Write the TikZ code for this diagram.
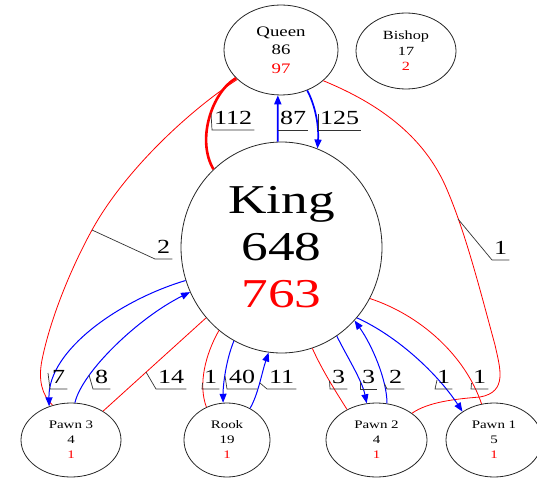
\documentclass[tikz,border=0pt]{standalone}
\usepackage{fontspec}
\setmainfont{Liberation Serif}[FakeStretch=1.3]
\usetikzlibrary{shapes.geometric,arrows.meta}
\begin{document}
\begin{tikzpicture}[x=1pt,y=-1pt,
  piece/.style={ellipse, draw=black!85, line width=0.8pt, inner sep=0pt, align=center},
  kingfont/.style={font=\fontsize{41}{47}\selectfont},
  queenfont/.style={font=\fontsize{14.5}{18.5}\selectfont},
  bishopfont/.style={font=\fontsize{12.5}{15.5}\selectfont},
  pawnfont/.style={font=\fontsize{11.5}{15}\selectfont},
  thinred/.style={draw=red, line width=0.8pt},
  thickred/.style={draw=red, line width=2.6pt},
  blueedge/.style={draw=blue, line width=1pt, -{Triangle[length=9pt,width=7pt]}},
  bluethick/.style={blueedge, line width=1.7pt},
  lbl/.style={font=\fontsize{20}{24}\selectfont, inner xsep=2pt, inner ysep=5.5pt, text depth=0pt, anchor=south west},
  lblline/.style={draw=black!80, line width=0.7pt}]
\useasboundingbox (0,0) rectangle (537,478);
\clip (0,0) rectangle (537,478);

% nodes
\node[piece, queenfont, minimum width=114pt, minimum height=90pt] (Q) at (281,50) {Queen\\86\\\textcolor{red}{97}};
\node[piece, bishopfont, minimum width=100pt, minimum height=76pt] (B) at (406,51) {Bishop\\17\\\textcolor{red}{2}};
\node[piece, kingfont, minimum width=201pt, minimum height=211pt] (K) at (281.5,247.5) {King\\648\\\textcolor{red}{763}};
\node[piece, pawnfont, minimum width=100pt, minimum height=74pt] (P3) at (71,440) {Pawn 3\\4\\\textcolor{red}{1}};
\node[piece, pawnfont, minimum width=86pt, minimum height=74pt] (R) at (227,440) {Rook\\19\\\textcolor{red}{1}};
\node[piece, pawnfont, minimum width=101pt, minimum height=74pt] (P2) at (376.5,440) {Pawn 2\\4\\\textcolor{red}{1}};
\node[piece, pawnfont, minimum width=96pt, minimum height=74pt] (P1) at (494,440) {Pawn 1\\5\\\textcolor{red}{1}};

% edges Queen - King
\draw[thickred] (Q.212) .. controls (212,92) and (196,140) .. (K.131);
\draw[bluethick] (K.92) -- (Q.266);
\draw[bluethick] (Q.303) .. controls (315,105) and (319,125) .. (K.70);
% long red edges from Queen
\draw[thinred] (Q.214) .. controls (190,110) and (125,170) .. (92,230) .. controls (70,270) and (50,320) .. (42,360) .. controls (38,380) and (42,395) .. (P3.118);
\draw[thinred] (Q.324) .. controls (370,100) and (420,130) .. (445,185) .. controls (465,230) and (480,290) .. (495,345) .. controls (500,368) and (508,392) .. (480,397) .. controls (455,399) and (428,402) .. (P2.37);
% King - Pawn 1
\draw[thinred] (K.330) .. controls (420,315) and (465,355) .. (P1.109);
\draw[blueedge] (K.317) .. controls (397,336) and (437,373) .. (P1.138);
% King - Pawn 2
\draw[blueedge] (P2.74) .. controls (387,380) and (372,345) .. (K.315);
\draw[blueedge] (K.302) .. controls (346,355) and (362,380) .. (P2.105);
\draw[thinred] (K.287) .. controls (322,370) and (336,392) .. (P2.134);
% King - Rook
\draw[blueedge] (R.54) .. controls (258,395) and (262,372) .. (K.263);
\draw[blueedge] (K.243) .. controls (226,360) and (223,385) .. (R.96);
\draw[thinred] (K.233) .. controls (205,355) and (198,385) .. (R.122);
% King - Pawn 3
\draw[thinred] (K.223) -- (P3.42);
\draw[blueedge] (P3.84) .. controls (82,372) and (138,318) .. (K.206);
\draw[blueedge] (K.199) .. controls (120,300) and (48,350) .. (P3.123);

% edge label anchors on edges
\coordinate (e112) at (211,113);
\coordinate (e125) at (318,114);
\coordinate (e2q) at (92,230);
\coordinate (e1q) at (458,219);
\coordinate (e7) at (48,373);
\coordinate (e8) at (89,375);
\coordinate (e14) at (146,372);
\coordinate (e1r) at (202.5,383);
\coordinate (e40) at (225,376);
\coordinate (e11) at (260,383);
\coordinate (e3a) at (329.5,381);
\coordinate (e3b) at (360,382);
\coordinate (e2p) at (384.5,384);
\coordinate (e1a) at (437,380);
\coordinate (e1b) at (471.5,383);

% labels
\node[lbl] (l112) at (212,130) {112};
\node[lbl] (l87) at (278,130) {87};
\node[lbl] (l125) at (318,130) {125};
\node[lbl] (l2q) at (155,259) {2};
\node[lbl] (l1q) at (492,260) {1};
\node[lbl] (l7) at (50,389) {7};
\node[lbl] (l8) at (93,389) {8};
\node[lbl] (l14) at (156,389) {14};
\node[lbl] (l1r) at (202,389) {1};
\node[lbl] (l40) at (227,389) {40};
\node[lbl] (l11) at (267,389) {11};
\node[lbl] (l3a) at (330,389) {3};
\node[lbl] (l3b) at (360,389) {3};
\node[lbl] (l2p) at (387,389) {2};
\node[lbl] (l1a) at (435,389) {1};
\node[lbl] (l1b) at (471,389) {1};

\draw[lblline] (e112) -- (l112.south west) -- (l112.south east);
\draw[lblline] (l87.south west) -- (l87.south east);
\draw[lblline] (e125) -- (l125.south west) -- (l125.south east);
\draw[lblline] (e2q) -- (l2q.south west) -- (l2q.south east);
\draw[lblline] (e1q) -- (l1q.south west) -- (l1q.south east);
\draw[lblline] (e7) -- (l7.south west) -- (l7.south east);
\draw[lblline] (e8) -- (l8.south west) -- (l8.south east);
\draw[lblline] (e14) -- (l14.south west) -- (l14.south east);
\draw[lblline] (e1r) -- (l1r.south west) -- (l1r.south east);
\draw[lblline] (e40) -- (l40.south west) -- (l40.south east);
\draw[lblline] (e11) -- (l11.south west) -- (l11.south east);
\draw[lblline] (e3a) -- (l3a.south west) -- (l3a.south east);
\draw[lblline] (e3b) -- (l3b.south west) -- (l3b.south east);
\draw[lblline] (e2p) -- (l2p.south west) -- (l2p.south east);
\draw[lblline] (e1a) -- (l1a.south west) -- (l1a.south east);
\draw[lblline] (e1b) -- (l1b.south west) -- (l1b.south east);
\end{tikzpicture}
\end{document}
